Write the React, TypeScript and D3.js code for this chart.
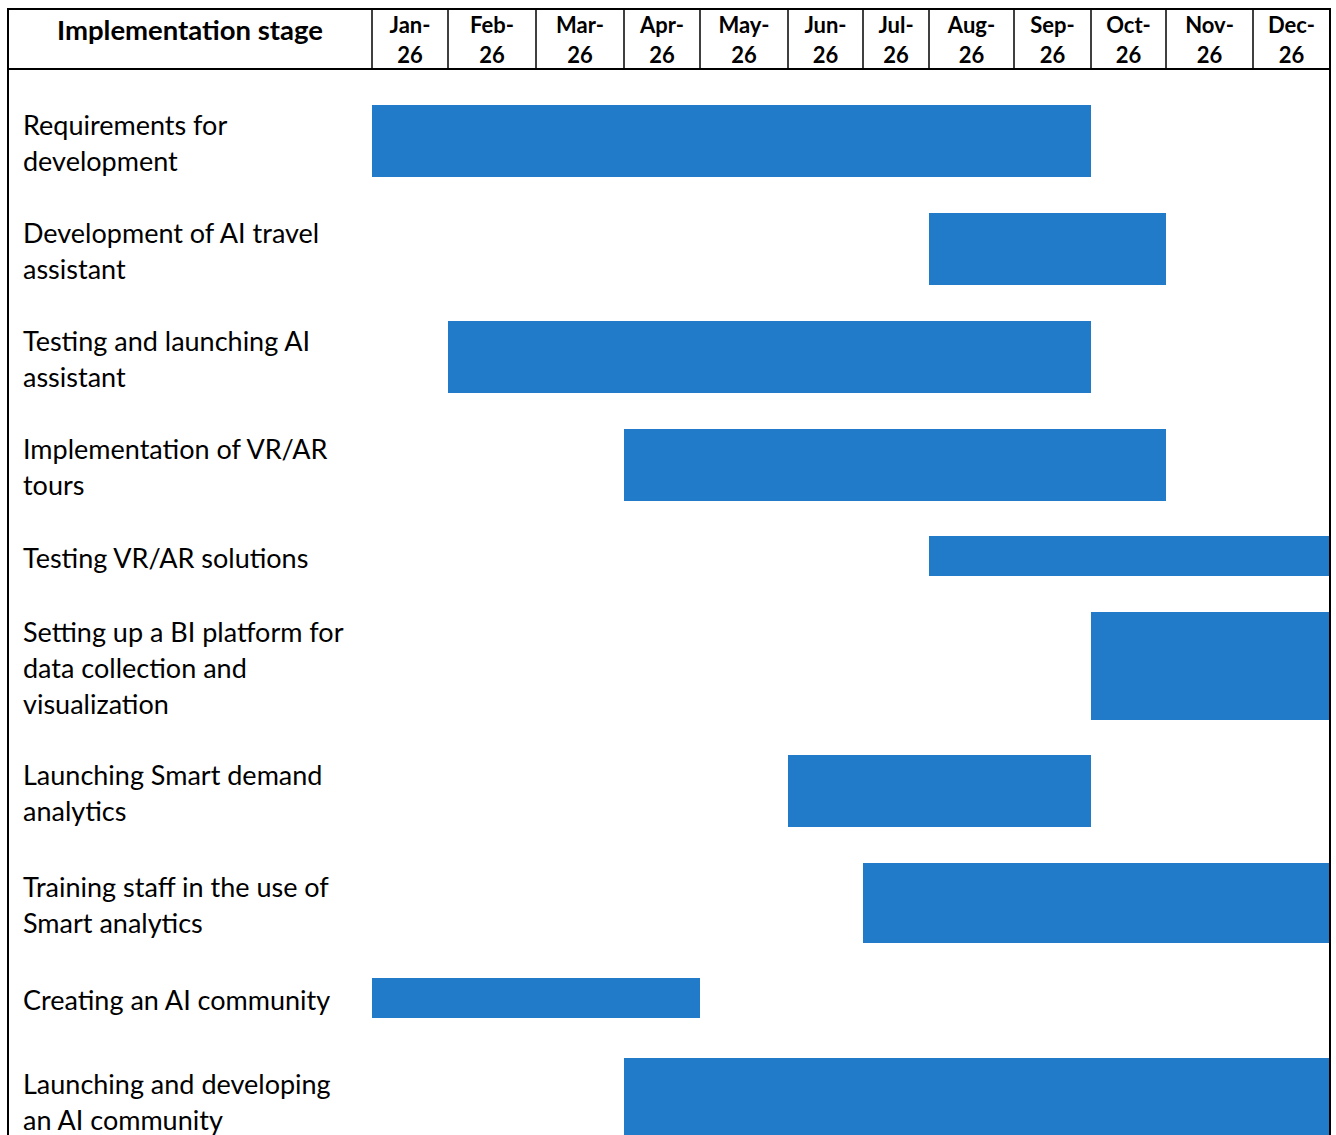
import React, { useEffect, useRef } from "react";
import * as d3 from "d3";

// Month columns of the plan (2026)
const months = ["Jan", "Feb", "Mar", "Apr", "May", "Jun", "Jul", "Aug", "Sep", "Oct", "Nov", "Dec"];
const yearSuffix = "26";

// Stage labels, already broken into lines
const stageLabels: string[][] = [
  ["Requirements for", "development"],
  ["Development of AI travel", "assistant"],
  ["Testing and launching AI", "assistant"],
  ["Implementation of VR/AR", "tours"],
  ["Testing VR/AR solutions"],
  ["Setting up a BI platform for", "data collection and", "visualization"],
  ["Launching Smart demand", "analytics"],
  ["Training staff in the use of", "Smart analytics"],
  ["Creating an AI community"],
  ["Launching and developing", "an AI community"],
];

// First month (0 = Jan) and month after the last one, per stage
const stageStart = [0, 7, 1, 3, 7, 9, 5, 6, 0, 3];
const stageEnd = [9, 10, 9, 10, 12, 12, 9, 12, 4, 12];

// Layout
const W = 1336;
const H = 1135;
const LEFT = 8;
const RIGHT = 1330;
const HEAD_TOP = 9;
const HEAD_BOTTOM = 69;
// Column edges of the month grid (table columns have uneven widths)
const monthEdges = [372, 448, 536, 624, 700, 788, 863, 929, 1014, 1091, 1166, 1253, RIGHT];
const rowHeights = [72, 72, 72, 72, 40, 108, 72, 80, 40, 84];
const rowGaps = [36, 36, 36, 36, 35, 36, 35, 36, 35, 40];
const LINE = 36;
const BLUE = "#217BC9";
const FONT = "Lato, 'Open Sans', sans-serif";

export default function App() {
  const ref = useRef<SVGSVGElement | null>(null);

  useEffect(() => {
    const svg = d3.select(ref.current);
    svg.selectAll("*").remove();

    const x = d3.scaleLinear().domain(d3.range(months.length + 1)).range(monthEdges);

    // row tops from cumulative heights and gaps
    const tops: number[] = [];
    let yCur = HEAD_BOTTOM;
    stageLabels.forEach((_, i) => {
      yCur += rowGaps[i];
      tops.push(yCur);
      yCur += rowHeights[i];
    });
    const y = d3.scaleOrdinal<number, number>().domain(d3.range(stageLabels.length)).range(tops);

    svg.append("rect").attr("width", W).attr("height", H).attr("fill", "#fff");

    // bars
    svg
      .append("g")
      .selectAll("rect")
      .data(stageLabels.map((_, i) => i))
      .join("rect")
      .attr("x", (i) => x(stageStart[i]))
      .attr("width", (i) => x(stageEnd[i]) - x(stageStart[i]))
      .attr("y", (i) => y(i))
      .attr("height", (i) => rowHeights[i])
      .attr("fill", BLUE);

    // stage labels
    const lab = svg
      .append("g")
      .attr("font-family", FONT)
      .attr("font-size", 27)
      .attr("fill", "#000");
    stageLabels.forEach((lines, i) => {
      const mid = y(i) + rowHeights[i] / 2 + 3;
      const first = mid - ((lines.length - 1) * LINE) / 2;
      lines.forEach((t, k) => {
        lab
          .append("text")
          .attr("x", 23)
          .attr("y", first + k * LINE)
          .attr("dy", "0.35em")
          .text(t);
      });
    });

    // header
    const head = svg.append("g").attr("font-family", FONT).attr("font-weight", 700).attr("fill", "#000");
    head
      .append("text")
      .attr("x", (LEFT + monthEdges[0]) / 2)
      .attr("y", 30)
      .attr("dy", "0.35em")
      .attr("text-anchor", "middle")
      .attr("font-size", 27.5)
      .text("Implementation stage");
    months.forEach((m, i) => {
      const cx = (x(i) + x(i + 1)) / 2;
      head
        .append("text")
        .attr("x", cx)
        .attr("y", 25)
        .attr("dy", "0.35em")
        .attr("text-anchor", "middle")
        .attr("font-size", 22)
        .text(`${m}-`);
      head
        .append("text")
        .attr("x", cx)
        .attr("y", 55)
        .attr("dy", "0.35em")
        .attr("text-anchor", "middle")
        .attr("font-size", 22)
        .text(yearSuffix);
    });

    // table borders
    const lines = svg.append("g").attr("stroke", "#000").attr("fill", "none");
    lines.append("line").attr("x1", LEFT - 1).attr("x2", RIGHT + 1).attr("y1", HEAD_TOP).attr("y2", HEAD_TOP).attr("stroke-width", 2);
    lines.append("line").attr("x1", LEFT - 1).attr("x2", RIGHT + 1).attr("y1", HEAD_BOTTOM).attr("y2", HEAD_BOTTOM).attr("stroke-width", 2);
    lines.append("line").attr("x1", LEFT).attr("x2", LEFT).attr("y1", HEAD_TOP).attr("y2", H).attr("stroke-width", 2);
    lines.append("line").attr("x1", RIGHT).attr("x2", RIGHT).attr("y1", HEAD_TOP).attr("y2", H).attr("stroke-width", 2);
    monthEdges.slice(0, -1).forEach((e) => {
      lines.append("line").attr("x1", e).attr("x2", e).attr("y1", HEAD_TOP).attr("y2", HEAD_BOTTOM).attr("stroke-width", 1.5);
    });
  }, []);

  return (
    <svg
      ref={ref}
      width={W}
      height={H}
      style={{ position: "absolute", left: 0, top: 0, display: "block" }}
    />
  );
}
